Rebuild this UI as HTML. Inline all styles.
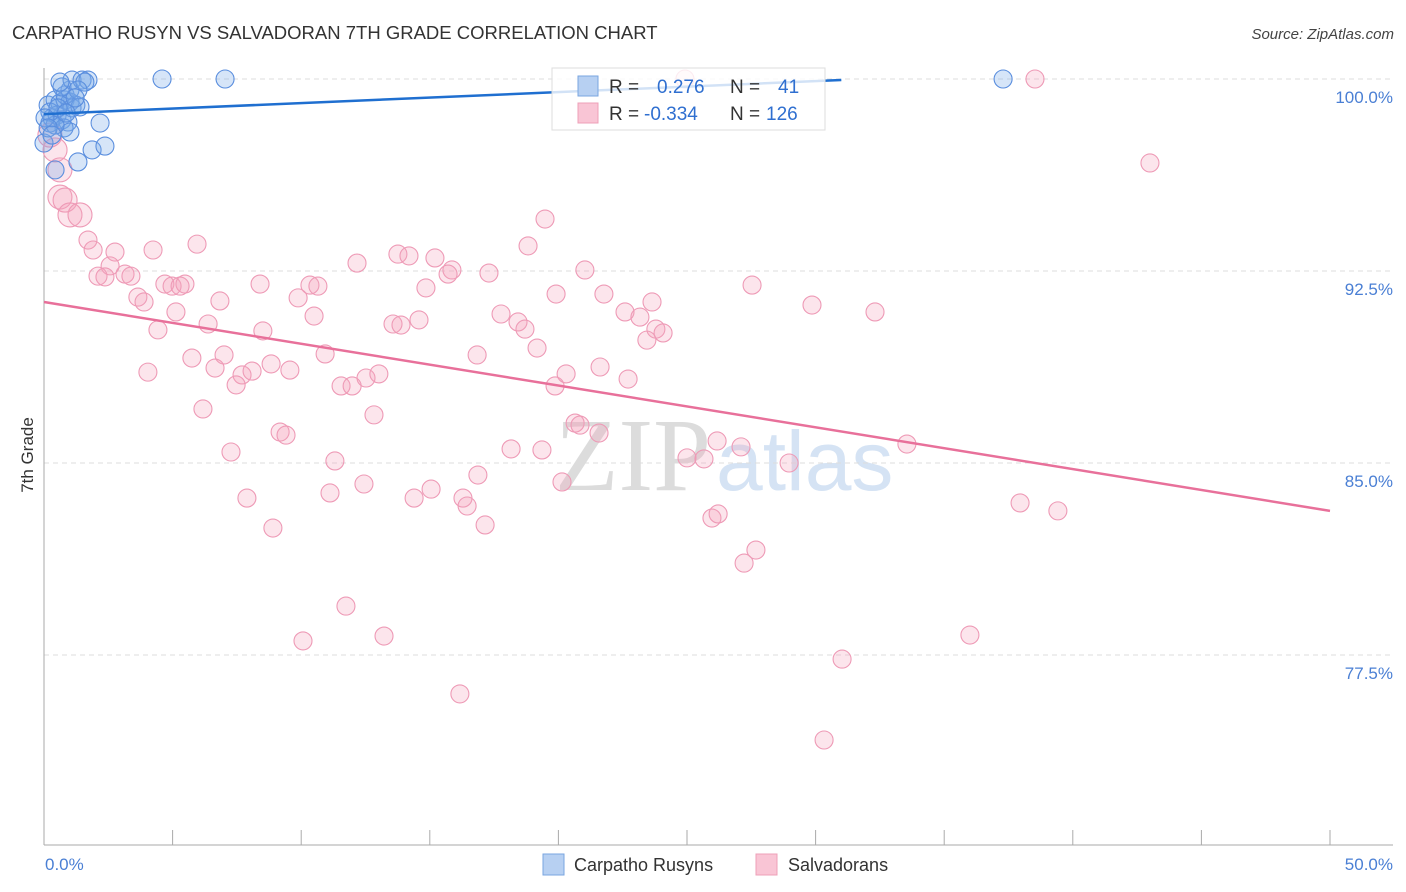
<!DOCTYPE html>
<html><head><meta charset="utf-8"><style>
body{margin:0;background:#fff;font-family:"Liberation Sans",sans-serif;}
svg{display:block}
</style></head><body>
<svg id="chart" width="1406" height="892" viewBox="0 0 1406 892">
<text x="12" y="39" font-size="18.5" fill="#333">CARPATHO RUSYN VS SALVADORAN 7TH GRADE CORRELATION CHART</text>
<text x="1394" y="39" font-size="15" fill="#444" font-style="italic" text-anchor="end">Source: ZipAtlas.com</text>
<g>
<text x="555" y="490" font-size="104" font-family="Liberation Serif,serif" fill="#dcdcdc">ZIP</text>
<text x="716" y="490" font-size="84" fill="#d5e3f4">atlas</text>
</g>
<g id="grid"></g>
<g id="axes"></g>
<g id="pts"></g>
<g id="lines"></g>
<g>
<rect x="552" y="68" width="273" height="62" fill="#fff" fill-opacity="0.8" stroke="#ddd"/>
<rect x="578" y="76" width="20" height="20" fill="#b7d0f2" stroke="#7aa6e0"/>
<rect x="578" y="103" width="20" height="20" fill="#f9c5d5" stroke="#eea0b8"/>
<text x="609" y="93" font-size="19" fill="#333">R = <tspan fill="#2f6fd0" x="657">0.276</tspan></text>
<text x="730" y="93" font-size="19" fill="#333">N = <tspan fill="#2f6fd0" x="778">41</tspan></text>
<text x="609" y="120" font-size="19" fill="#333">R = <tspan fill="#2f6fd0" x="644">-0.334</tspan></text>
<text x="730" y="120" font-size="19" fill="#333">N = <tspan fill="#2f6fd0" x="766">126</tspan></text>
</g>
<g>
<rect x="543" y="854" width="21" height="21" fill="#b7d0f2" stroke="#7aa6e0"/>
<text x="574" y="871" font-size="18" fill="#333">Carpatho Rusyns</text>
<rect x="756" y="854" width="21" height="21" fill="#f9c5d5" stroke="#eea0b8"/>
<text x="788" y="871" font-size="18" fill="#333">Salvadorans</text>
</g>
<text x="45" y="870" font-size="17" fill="#4a7fd4">0.0%</text>
<text x="1393" y="870" font-size="17" fill="#4a7fd4" text-anchor="end">50.0%</text>
<text transform="translate(33,455) rotate(-90)" font-size="17" fill="#333" text-anchor="middle">7th Grade</text>
</svg>
<script>
const yTicks=[100,92.5,85,77.5];
const yTickLabels=["100.0%","92.5%","85.0%","77.5%"];
const blueX=[0,0.23,0.16,0.43,0.62,0.82,1.01,0.31,0.51,0.70,0.93,1.09,1.24,1.40,0.82,1.01,0.70,1.09,1.48,1.71,1.59,1.32,0.78,1.01,0.43,2.18,1.32,1.87,2.37,0.43,4.59,7.04,37.29,0.23,0.54,0.86,0.04,0.16,0.31,1.21,0.62];
const blueY=[97.5,98.28,98.98,99.18,99.06,99.18,99.10,98.48,98.59,98.40,98.32,98.87,98.98,98.91,99.38,99.57,99.69,99.96,99.96,99.96,99.88,99.57,98.09,97.93,98.20,98.28,96.76,97.23,97.38,96.45,100,100,100,98.71,98.87,98.67,98.48,98.09,97.81,99.26,99.88];
const pinkX=[38.53,24.92,43.0,0.62,0.82,1.01,1.40,19.48,1.71,1.91,2.76,4.24,5.95,18.82,13.76,14.19,12.17,15.20,15.86,15.71,17.30,21.03,2.57,2.10,2.37,3.15,3.38,4.70,4.98,5.48,5.29,8.40,10.34,10.65,14.85,27.53,19.91,21.77,3.65,3.89,6.84,9.88,29.86,32.31,23.64,22.59,23.17,17.77,5.13,6.38,10.50,14.58,13.57,13.88,18.43,18.70,4.43,8.51,23.79,24.07,23.44,19.17,16.84,5.75,7.00,10.93,4.04,6.65,7.70,8.09,8.83,9.56,7.47,12.52,13.02,11.55,11.98,19.87,20.30,21.62,22.71,12.83,6.18,20.65,20.84,21.58,9.18,9.41,7.27,11.31,18.16,19.36,26.17,27.10,33.55,25.00,25.66,28.97,16.87,20.14,12.44,11.12,15.05,7.89,14.39,16.29,16.45,37.95,39.42,17.15,8.90,25.97,26.21,27.68,27.22,11.74,13.22,10.07,36.00,31.03,16.17,30.33,0.62,0.43,0.23];
const pinkY=[100,100,96.72,95.39,95.27,94.69,94.69,94.53,93.71,93.32,93.24,93.32,93.55,93.48,93.16,93.09,92.81,93.01,92.54,92.38,92.42,92.54,92.70,92.30,92.27,92.38,92.30,91.99,91.91,91.99,91.91,91.99,91.95,91.91,91.84,91.95,91.60,91.60,91.48,91.29,91.33,91.45,91.17,90.90,91.29,90.90,90.70,90.82,90.90,90.43,90.74,90.59,90.43,90.39,90.51,90.23,90.20,90.16,90.23,90.08,89.80,89.49,89.22,89.10,89.22,89.26,88.55,88.71,88.44,88.59,88.87,88.63,88.05,88.32,88.48,88.01,88.01,88.01,88.48,88.75,88.28,86.88,87.11,86.56,86.48,86.17,86.21,86.09,85.43,85.08,85.55,85.51,85.86,85.63,85.74,85.20,85.16,85.00,84.53,84.26,84.18,83.83,83.98,83.63,83.63,83.63,83.32,83.44,83.13,82.58,82.46,82.85,83.01,81.60,81.09,79.41,78.24,78.05,78.28,77.34,75.98,74.18,96.45,97.23,97.81];
const blueTrendX=[0,31];
const blueTrendY=[98.63,99.96];
const pinkTrendX=[0,50];
const pinkTrendY=[91.29,83.13];
const NS="http://www.w3.org/2000/svg";
function sx(v){return 44+v*25.72;}
function sy(v){return 79+(100-v)*25.6;}
function mk(tag,attrs,parent){const e=document.createElementNS(NS,tag);for(const k in attrs)e.setAttribute(k,attrs[k]);parent.appendChild(e);return e;}
const grid=document.getElementById('grid'),axes=document.getElementById('axes'),pts=document.getElementById('pts'),lines=document.getElementById('lines');
yTicks.forEach((t,i)=>{
 const l=mk('line',{x1:44,x2:1393,y1:sy(t),y2:sy(t),stroke:'#ddd','stroke-dasharray':'5,4'},grid);
 
 
 const tx=mk('text',{x:1393,y:sy(t)+24,'font-size':17,fill:'#4a7fd4','text-anchor':'end'},grid);
 tx.textContent=yTickLabels[i];
 
 
});
let a=mk('line',{x1:44,x2:44,y1:68,y2:845,stroke:'#aaa'},axes);


a=mk('line',{x1:44,x2:1393,y1:845,y2:845,stroke:'#aaa'},axes);


for(let v=5;v<=50;v+=5){
 const t=mk('line',{x1:sx(v),x2:sx(v),y1:830,y2:845,stroke:'#aaa'},axes);
 
 
}
pinkX.forEach((x,i)=>{
 const big=(x<1.5&&pinkY[i]>94.5);
 const c=mk('circle',{cx:sx(x),cy:sy(pinkY[i]),r:big?12:9,fill:'rgba(244,160,188,0.28)',stroke:'#ee9ab6','stroke-width':1.1},pts);
 
 
});
blueX.forEach((x,i)=>{
 const c=mk('circle',{cx:sx(x),cy:sy(blueY[i]),r:9,fill:'rgba(120,168,232,0.3)',stroke:'#5a8ede','stroke-width':1.1},pts);
 
 
});
let ln=mk('line',{x1:sx(blueTrendX[0]),y1:sy(blueTrendY[0]),x2:sx(blueTrendX[1]),y2:sy(blueTrendY[1]),stroke:'#1f6fd0','stroke-width':2.5},lines);


ln=mk('line',{x1:sx(pinkTrendX[0]),y1:sy(pinkTrendY[0]),x2:sx(pinkTrendX[1]),y2:sy(pinkTrendY[1]),stroke:'#e8709a','stroke-width':2.5},lines);


</script>
</body></html>
